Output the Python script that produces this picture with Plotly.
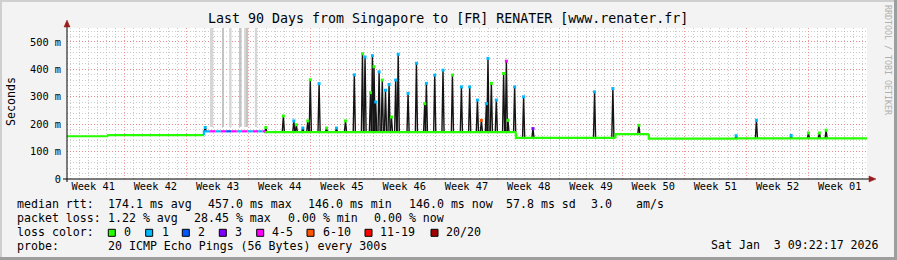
import pandas as pd
import plotly.graph_objects as go

# ---------------- data ----------------
START = pd.Timestamp("2025-10-06 13:26:00")
SPAN_DAYS = 90

# baseline median rtt: start (days after START), level (ms), loss class
BASE_DAY = [0.00, 4.63, 15.40, 16.10, 16.70, 17.30, 17.90, 18.50, 19.10, 19.70,
            20.30, 20.90, 21.50, 22.00, 22.30, 50.50, 61.70, 65.45, 75.50]
BASE_MS = [156, 160, 174, 174, 174, 174, 174, 174, 174, 174,
           174, 174, 174, 174, 171, 150, 164, 147, 148]
BASE_LOSS = [0, 0, 1, 4, 1, 4, 2, 4, 1, 4,
             1, 4, 1, 4, 0, 0, 0, 0, 0]

# spikes of the median rtt: time (days after START), peak (ms), loss class
SPIKE_DAY = [15.55, 22.37, 24.34, 25.52, 25.80, 26.53, 27.09, 27.37, 28.36, 29.19,
             30.32, 31.33, 32.32, 33.24, 33.53, 34.14, 34.36, 34.54, 34.73, 35.11,
             35.47, 35.83, 36.23, 36.50, 36.98, 37.26, 38.37, 39.31, 40.24, 40.43,
             41.37, 42.30, 43.36, 44.37, 45.30, 46.17, 46.62, 47.18, 47.36, 47.74,
             48.30, 49.12, 49.43, 49.61, 50.36, 51.37, 52.42, 59.35, 61.41, 64.33,
             75.28, 77.56, 81.46, 83.41, 84.64, 85.40]
SPIKE_MS = [188, 188, 230, 212, 198, 186, 212, 362, 348, 186,
            186, 212, 380, 457, 445, 315, 450, 410, 281, 391,
            361, 324, 345, 226, 361, 455, 312, 422, 275, 349,
            379, 397, 379, 336, 336, 288, 214, 275, 440, 349,
            288, 385, 430, 214, 336, 300, 184, 318, 330, 196,
            158, 214, 159, 168, 168, 178]
SPIKE_LOSS = [1, 0, 0, 1, 0, 1, 0, 0, 1, 0,
              1, 0, 1, 0, 1, 0, 1, 0, 1, 1,
              0, 1, 1, 0, 1, 1, 1, 1, 0, 1,
              1, 1, 0, 1, 1, 1, 5, 1, 1, 0,
              1, 0, 4, 0, 1, 1, 3, 1, 1, 0,
              1, 1, 1, 0, 0, 0]

# grey bands (unknown / off-scale smoke) : centre (days), duration (hours)
GAP_DAY = [16.27, 17.54, 18.38, 19.54, 20.01, 20.29, 21.27]
GAP_HOURS = [8.9, 4.1, 6.5, 4.8, 4.1, 4.3, 6.2]
GAP_BOTTOM_MS = 190

LOSS_LABELS = ["0", "1", "2", "3", "4-5", "6-10", "11-19", "20/20"]
LOSS_COLORS = ["#26ff00", "#00b8ff", "#0059ff", "#7e00ff",
               "#ff00ff", "#ff5500", "#ff0000", "#a10000"]

Y_TICKS = [0, 100, 200, 300, 400, 500]
Y_TICKTEXT = ["0", "100 m", "200 m", "300 m", "400 m", "500 m"]

TITLE = "Last 90 Days from Singapore to [FR] RENATER [www.renater.fr]"
LEGEND_RTT = ["median rtt:", "174.1 ms avg", "457.0 ms max", "146.0 ms min",
              "146.0 ms now", "57.8 ms sd", "3.0", "am/s"]
LEGEND_LOSS = ["packet loss:", "1.22 % avg", "28.45 % max", "0.00 % min", "0.00 % now"]
PROBE = ["probe:", "20 ICMP Echo Pings (56 Bytes) every 300s"]
STAMP = "Sat Jan  3 09:22:17 2026"

# ---------------- helpers ----------------
W, H = 897, 260
ML, MR, MT, MB = 67, 30, 28, 81
PW, PH = W - ML - MR, H - MT - MB
Y_MAX = 551


def t(d):
    return (START + pd.to_timedelta(d, unit="D")).strftime("%Y-%m-%d %H:%M:%S")


def px(x):
    return (x - ML) / PW


def py(y):
    return (H - MB - y) / PH


def base_at(d):
    lvl = BASE_MS[0]
    for bd, bm in zip(BASE_DAY, BASE_MS):
        if bd <= d:
            lvl = bm
    return lvl


MONO = "DejaVu Sans Mono"
fig = go.Figure()

# grey bands
fig.add_trace(go.Bar(
    x=[t(d) for d in GAP_DAY],
    y=[600 - GAP_BOTTOM_MS] * len(GAP_DAY),
    base=[GAP_BOTTOM_MS] * len(GAP_DAY),
    width=[h * 3600 * 1000 for h in GAP_HOURS],
    marker=dict(color=["#d6d6d6", "#c4c4c4", "#d6d6d6", "#c4c4c4", "#d6d6d6", "#c4c4c4", "#d6d6d6"],
                line=dict(width=0)),
    hoverinfo="skip",
))

# spikes (black)
DELTA = 0.12
sx, sy = [], []
for d, m in zip(SPIKE_DAY, SPIKE_MS):
    b = base_at(d)
    sx += [t(d - DELTA), t(d), t(d + DELTA), None]
    sy += [b, m, b, None]
fig.add_trace(go.Scatter(x=sx, y=sy, mode="lines",
                         line=dict(color="#141414", width=1.4), hoverinfo="skip"))

# baseline coloured by loss
for c, col in enumerate(LOSS_COLORS):
    bx, by = [], []
    for i, (d, m, l) in enumerate(zip(BASE_DAY, BASE_MS, BASE_LOSS)):
        if l != c:
            continue
        end = BASE_DAY[i + 1] if i + 1 < len(BASE_DAY) else SPAN_DAYS
        prev = BASE_MS[i - 1] if i > 0 else m
        bx += [t(d), t(d), t(end), None]
        by += [prev, m, m, None]
    if bx:
        fig.add_trace(go.Scatter(x=bx, y=by, mode="lines",
                                 line=dict(color=col, width=2.2), hoverinfo="skip"))

# peak markers coloured by loss
fig.add_trace(go.Scatter(
    x=[t(d) for d in SPIKE_DAY], y=SPIKE_MS, mode="markers",
    marker=dict(symbol="square", size=3, color=[LOSS_COLORS[l] for l in SPIKE_LOSS],
                line=dict(width=0)),
    hoverinfo="skip"))

MAJOR = "rgba(240,120,120,0.75)"
MINOR = "rgba(170,170,170,0.6)"

fig.update_layout(
    width=W, height=H,
    margin=dict(l=ML, r=MR, t=MT, b=MB, pad=0),
    paper_bgcolor="#f3f3f3", plot_bgcolor="#ffffff",
    showlegend=False, barmode="overlay",
    font=dict(family=MONO, color="#000000"),
    xaxis=dict(
        type="date", range=[t(0), t(SPAN_DAYS)],
        tick0="2025-10-13", dtick=7 * 86400000,
        ticklabelmode="period", tickformat="Week %V",
        tickfont=dict(family=MONO, size=10.3, color="#000"),
        ticks="", showline=False, zeroline=False,
        showgrid=True, gridcolor=MAJOR, griddash="1px,2px", gridwidth=1,
        minor=dict(dtick=86400000, tick0="2025-10-13", showgrid=True,
                   gridcolor=MINOR, griddash="1px,2px", gridwidth=1),
        fixedrange=True,
    ),
    yaxis=dict(
        range=[0, Y_MAX], tickvals=Y_TICKS, ticktext=Y_TICKTEXT,
        tickfont=dict(family=MONO, size=10.3, color="#000"),
        ticks="", ticklabelstandoff=5, showline=False, zeroline=False,
        showgrid=True, gridcolor=MAJOR, griddash="1px,2px", gridwidth=1,
        minor=dict(dtick=20, tick0=0, showgrid=True,
                   gridcolor=MINOR, griddash="1px,2px", gridwidth=1),
        fixedrange=True,
    ),
)

shapes = []
# frame shading
shapes.append(dict(type="rect", xref="paper", yref="paper", x0=px(0), x1=px(W), y0=py(0), y1=py(2),
                   fillcolor="#cfcfcf", line=dict(width=0), layer="above"))
shapes.append(dict(type="rect", xref="paper", yref="paper", x0=px(0), x1=px(2), y0=py(0), y1=py(H),
                   fillcolor="#cfcfcf", line=dict(width=0), layer="above"))
shapes.append(dict(type="rect", xref="paper", yref="paper", x0=px(0), x1=px(W), y0=py(H - 3), y1=py(H),
                   fillcolor="#9e9e9e", line=dict(width=0), layer="above"))
shapes.append(dict(type="rect", xref="paper", yref="paper", x0=px(W - 3), x1=px(W), y0=py(0), y1=py(H),
                   fillcolor="#9e9e9e", line=dict(width=0), layer="above"))
# axes
shapes.append(dict(type="line", xref="paper", yref="paper", x0=px(63), x1=px(870), y0=0, y1=0,
                   line=dict(color="#000000", width=1), layer="above"))
shapes.append(dict(type="line", xref="paper", yref="paper", x0=0, x1=0, y0=py(182), y1=py(25),
                   line=dict(color="#000000", width=1), layer="above"))
# arrow heads
shapes.append(dict(type="path", xref="paper", yref="paper",
                   path=f"M {px(869)} {py(176)} L {px(876)} {py(179)} L {px(869)} {py(182)} Z",
                   fillcolor="#9b1c1c", line=dict(color="#9b1c1c", width=0.5), layer="above"))
shapes.append(dict(type="path", xref="paper", yref="paper",
                   path=f"M {px(64)} {py(27)} L {px(67)} {py(20)} L {px(70)} {py(27)} Z",
                   fillcolor="#9b1c1c", line=dict(color="#9b1c1c", width=0.5), layer="above"))

ann = []


def text(x, y, s, size=11.6, anchor="left", color="#000", angle=0):
    ann.append(dict(xref="paper", yref="paper", x=px(x), y=py(y), text=s, showarrow=False,
                    xanchor=anchor, yanchor="middle", textangle=angle, borderpad=0,
                    font=dict(family=MONO, size=size, color=color)))


text(448, 19, TITLE, size=13.3, anchor="center")
text(11, 101, "Seconds", size=11.6, anchor="center", angle=-90)
text(888, 60, "RRDTOOL / TOBI OETIKER", size=8.3, anchor="center", color="#b0b0b0", angle=90)

for s, x in zip(LEGEND_RTT, [16, 107, 207, 307, 407.5, 505, 590, 635]):
    text(x, 204.3, s)
for s, x in zip(LEGEND_LOSS, [16, 107, 193, 286.5, 372.5]):
    text(x, 218.3, s)
text(16, 232.3, "loss color:")
box_x = [108.3, 145.7, 182.3, 219.3, 256.7, 307, 365, 431]
lab_x = [123.3, 161, 197, 234.3, 270.7, 321.7, 379.3, 445]
for bx_, lx, lab, col in zip(box_x, lab_x, LOSS_LABELS, LOSS_COLORS):
    shapes.append(dict(type="rect", xref="paper", yref="paper",
                       x0=px(bx_), x1=px(bx_ + 7), y0=py(236.3), y1=py(229.3),
                       fillcolor=col, line=dict(color="#000000", width=1), layer="above"))
    text(lx, 232.3, lab)
text(16, 245.8, PROBE[0])
text(107, 245.8, PROBE[1])
text(880, 245.3, STAMP, anchor="right")

fig.update_layout(shapes=shapes, annotations=ann)
fig.write_html("out.html")
